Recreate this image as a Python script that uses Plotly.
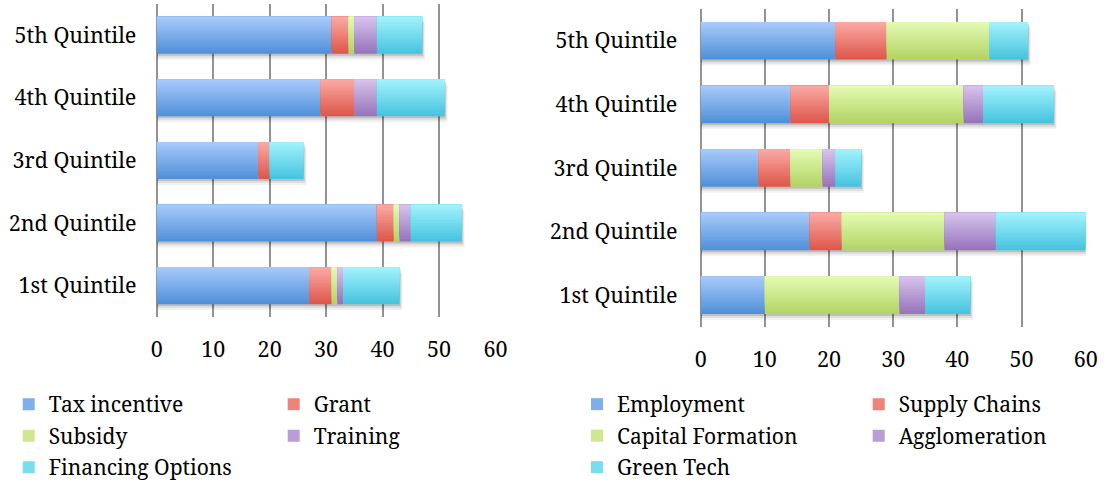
import numpy as np
import plotly.graph_objects as go
from plotly.subplots import make_subplots

# ---- data -----------------------------------------------------------------
quintiles = ["1st Quintile", "2nd Quintile", "3rd Quintile", "4th Quintile", "5th Quintile"]
x_ticks = [0, 10, 20, 30, 40, 50, 60]

# left panel: instrument type
tax_incentive = [27, 39, 18, 29, 31]
grant = [4, 3, 2, 6, 3]
subsidy = [1, 1, 0, 0, 1]
training = [1, 2, 0, 4, 4]
financing_options = [10, 9, 6, 12, 8]

# right panel: policy goal
employment = [10, 17, 9, 14, 21]
supply_chains = [0, 5, 5, 6, 8]
capital_formation = [21, 16, 5, 21, 16]
agglomeration = [4, 8, 2, 3, 0]
green_tech = [7, 14, 4, 11, 6]

left_names = ["Tax incentive", "Grant", "Subsidy", "Training", "Financing Options"]
left_values = [tax_incentive, grant, subsidy, training, financing_options]
right_names = ["Employment", "Supply Chains", "Capital Formation", "Agglomeration", "Green Tech"]
right_values = [employment, supply_chains, capital_formation, agglomeration, green_tech]

# ---- styling --------------------------------------------------------------
W, H = 1104, 488
FONT = "'Noto Serif', 'Liberation Serif', serif"
AXIS_FS = 21.5
LEGEND_FS = 21
GRID = "#939393"

# (top, bottom) colours of each series' vertical shading
palette = [
    ("#a9cbfb", "#4f8fd8"),
    ("#fbaaa5", "#dd5549"),
    ("#e4fbb4", "#b2d364"),
    ("#d8c4ee", "#9572ba"),
    ("#a3f3fd", "#44c3de"),
]
BAR = 0.59      # bar thickness in category units
SLICES = 14     # strips used to shade each bar from dark (bottom) to light (top)


def hex_rgb(h):
    h = h.lstrip("#")
    return np.array([int(h[i:i + 2], 16) for i in (0, 2, 4)], dtype=float)


def mix(top, bottom, t):
    c = hex_rgb(bottom) * (1 - t) + hex_rgb(top) * t
    return "rgb({:.0f},{:.0f},{:.0f})".format(*c)


def px_x(p):
    return p / W


def px_y(p):
    return 1 - p / H


fig = make_subplots(rows=1, cols=2)


def add_panel(col, names, values, legends, tag, px_per_cat, px_per_unit):
    vals = np.array(values, dtype=float)
    starts = np.vstack([np.zeros(len(quintiles)), np.cumsum(vals, axis=0)[:-1]])
    totals = vals.sum(axis=0)

    # soft drop shadow under each stacked bar
    for dy, dx, alpha in [(6, 3, 0.05), (4, 2, 0.08), (2, 1, 0.14)]:
        fig.add_trace(
            go.Bar(
                orientation="h",
                y=quintiles,
                x=totals + dx / px_per_unit,
                base=np.zeros(len(quintiles)),
                width=BAR,
                offset=-BAR / 2 - dy / px_per_cat,
                marker=dict(color=f"rgba(0,0,0,{alpha})", line=dict(width=0)),
                showlegend=False,
                hoverinfo="skip",
            ),
            row=1,
            col=col,
        )

    step = BAR / SLICES
    for k, name in enumerate(names):
        top, bottom = palette[k]
        for i in range(SLICES):
            t = (i + 0.5) / SLICES
            lo = -BAR / 2 + i * step
            fig.add_trace(
                go.Bar(
                    orientation="h",
                    y=quintiles,
                    x=vals[k],
                    base=starts[k],
                    width=BAR / 2 - lo,
                    offset=lo,
                    marker=dict(color=mix(top, bottom, t), line=dict(width=0)),
                    name=name,
                    legendgroup=f"{tag}{k}",
                    showlegend=(i == SLICES // 2),
                    legend=legends[k],
                    hovertemplate=f"{name}: %{{x}}<extra></extra>",
                ),
                row=1,
                col=col,
            )


# panel geometry in pixels
L_X0, L_X1, L_TOP, L_BOT = 156.7, 495.5, 4, 317
R_X0, R_X1, R_TOP, R_BOT = 700.7, 1085.7, 9, 327

add_panel(1, left_names, left_values, ["legend", "legend2", "legend", "legend2", "legend"], "L",
          (L_BOT - L_TOP) / 5, (L_X1 - L_X0) / 60)
add_panel(2, right_names, right_values, ["legend3", "legend4", "legend3", "legend4", "legend3"], "R",
          (R_BOT - R_TOP) / 5, (R_X1 - R_X0) / 60)

axis_font = dict(family=FONT, size=AXIS_FS, color="#000000")

fig.update_xaxes(
    range=[0, 60],
    tickvals=x_ticks,
    showgrid=True,
    gridcolor=GRID,
    gridwidth=2,
    zeroline=True,
    zerolinecolor=GRID,
    zerolinewidth=2,
    showline=False,
    ticks="outside",
    ticklen=13,
    tickcolor="rgba(0,0,0,0)",
    tickfont=axis_font,
    automargin=False,
    fixedrange=True,
)
fig.update_yaxes(
    type="category",
    categoryorder="array",
    categoryarray=quintiles,
    showgrid=False,
    zeroline=False,
    showline=False,
    ticks="outside",
    tickcolor="rgba(0,0,0,0)",
    tickfont=axis_font,
    automargin=False,
    fixedrange=True,
)
fig.update_yaxes(ticklen=15, row=1, col=1)
fig.update_yaxes(ticklen=18, row=1, col=2)

legend_common = dict(
    orientation="v",
    xanchor="left",
    yanchor="top",
    y=px_y(384),
    font=dict(family=FONT, size=LEGEND_FS, color="#000000"),
    bgcolor="rgba(0,0,0,0)",
    borderwidth=0,
    tracegroupgap=1.2,
)

fig.update_layout(
    width=W,
    height=H,
    margin=dict(l=0, r=0, t=0, b=0),
    paper_bgcolor="white",
    plot_bgcolor="white",
    barmode="overlay",
    xaxis=dict(domain=[px_x(L_X0), px_x(L_X1)]),
    yaxis=dict(domain=[px_y(L_BOT), px_y(L_TOP)]),
    xaxis2=dict(domain=[px_x(R_X0), px_x(R_X1)]),
    yaxis2=dict(domain=[px_y(R_BOT), px_y(R_TOP)]),
    legend=dict(legend_common, x=px_x(8.7)),
    legend2=dict(legend_common, x=px_x(273.7)),
    legend3=dict(legend_common, x=px_x(577)),
    legend4=dict(legend_common, x=px_x(858.7)),
)

fig.write_html("out.html")
